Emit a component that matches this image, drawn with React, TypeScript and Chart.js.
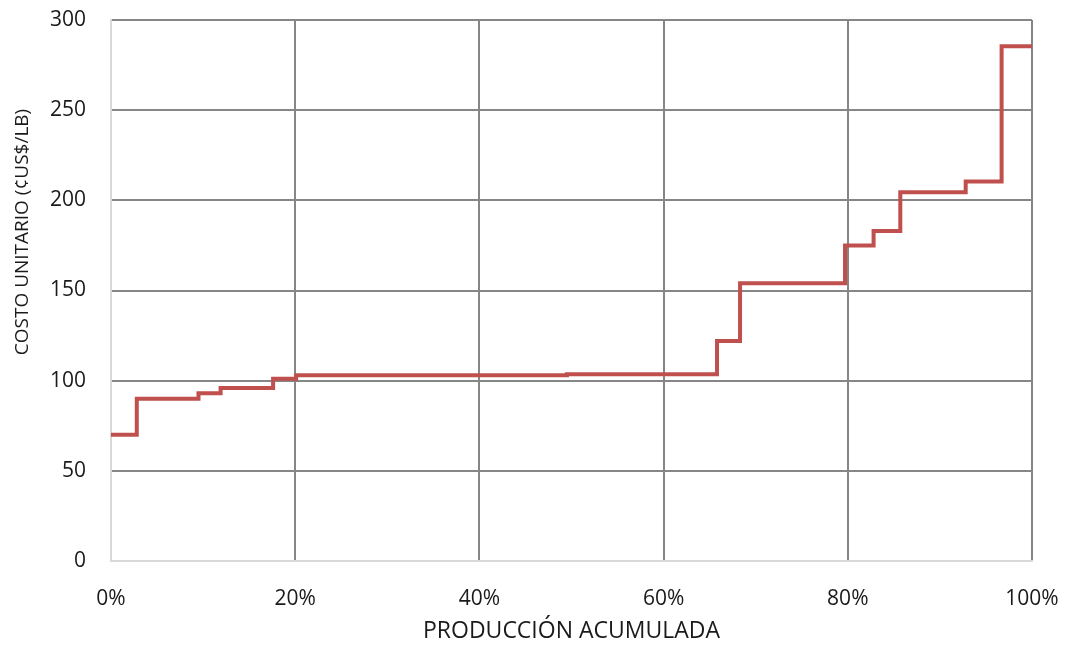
import React, { useEffect, useRef } from "react";
import { Chart, registerables } from "chart.js";

Chart.register(...registerables);

// Cumulative production (%) where each cost step ends (line rises here)
const stepStart: number[] = [0, 2.8, 9.5, 11.9, 17.6, 20.1, 49.5, 65.8, 68.3, 79.7, 82.8, 85.7, 92.8, 96.7, 100];
// Unit cost (¢US$/lb) reached at each step
const unitCost: number[] = [70, 90, 93, 96, 101, 103, 103.5, 122, 154, 175, 183, 204.5, 210.5, 285.5, 285.5];

const xTicks: number[] = [0, 20, 40, 60, 80, 100];
const yTicks: number[] = [0, 50, 100, 150, 200, 250, 300];

const xTitle = "PRODUCCIÓN ACUMULADA";
const yTitle = "COSTO UNITARIO (¢US$/LB)";

const FONT = "'Open Sans', sans-serif";

const yTitlePlugin = {
  id: "yTitle",
  afterDraw(chart: any) {
    const ctx = chart.ctx;
    ctx.save();
    ctx.translate(23, 232);
    ctx.rotate(-Math.PI / 2);
    ctx.font = `19px ${FONT}`;
    ctx.fillStyle = "#1a1a1a";
    ctx.textAlign = "center";
    ctx.textBaseline = "middle";
    ctx.fillText(yTitle, 0, 0);
    ctx.restore();
  },
};

export default function App() {
  const ref = useRef<HTMLCanvasElement | null>(null);

  useEffect(() => {
    if (!ref.current) return;
    const points = stepStart.map((x, i) => ({ x, y: unitCost[i] }));
    const chart = new Chart(ref.current, {
      type: "scatter",
      data: {
        datasets: [
          {
            data: points,
            showLine: true,
            stepped: "before",
            borderColor: "#c0504d",
            backgroundColor: "#c0504d",
            borderWidth: 4,
            pointRadius: 0,
            borderJoinStyle: "miter",
          },
        ],
      },
      plugins: [yTitlePlugin],
      options: {
        animation: false,
        responsive: false,
        maintainAspectRatio: false,
        layout: { padding: { left: 0, right: 33, top: 20, bottom: 0 } },
        plugins: { legend: { display: false }, tooltip: { enabled: false } },
        scales: {
          x: {
            type: "linear",
            min: 0,
            max: 100,
            afterBuildTicks: (axis: any) => {
              axis.ticks = xTicks.map((v) => ({ value: v }));
            },
            afterFit: (axis: any) => {
              axis.height = 86;
              axis.paddingLeft = 0;
              axis.paddingRight = 0;
            },
            ticks: {
              callback: (v: any) => v + "%",
              font: { family: FONT, size: 21 },
              color: "#1a1a1a",
              padding: 25,
              maxRotation: 0,
            },
            grid: {
              color: (c: any) => (c.index === 0 ? "#d9d9d9" : "#868686"),
              lineWidth: 2,
              drawTicks: false,
            },
            border: { color: "#d9d9d9", width: 2 },
            title: {
              display: true,
              text: xTitle,
              font: { family: FONT, size: 23 },
              color: "#1a1a1a",
              padding: { top: 0, bottom: 2 },
            },
          },
          y: {
            type: "linear",
            min: 0,
            max: 300,
            afterBuildTicks: (axis: any) => {
              axis.ticks = yTicks.map((v) => ({ value: v }));
            },
            afterFit: (axis: any) => {
              axis.width = 111;
              axis.paddingTop = 0;
              axis.paddingBottom = 0;
            },
            ticks: {
              font: { family: FONT, size: 21 },
              color: "#1a1a1a",
              padding: 25,
            },
            grid: {
              color: (c: any) => (c.index === 0 ? "#d9d9d9" : "#868686"),
              lineWidth: 2,
              drawTicks: false,
            },
            border: { color: "#d9d9d9", width: 2 },
            title: { display: false },
          },
        },
      },
    });
    return () => chart.destroy();
  }, []);

  return (
    <div style={{ position: "absolute", left: 0, top: 0, width: 1065, height: 647, background: "#fff" }}>
      <canvas ref={ref} width={1065} height={647} style={{ width: 1065, height: 647, display: "block" }} />
    </div>
  );
}
